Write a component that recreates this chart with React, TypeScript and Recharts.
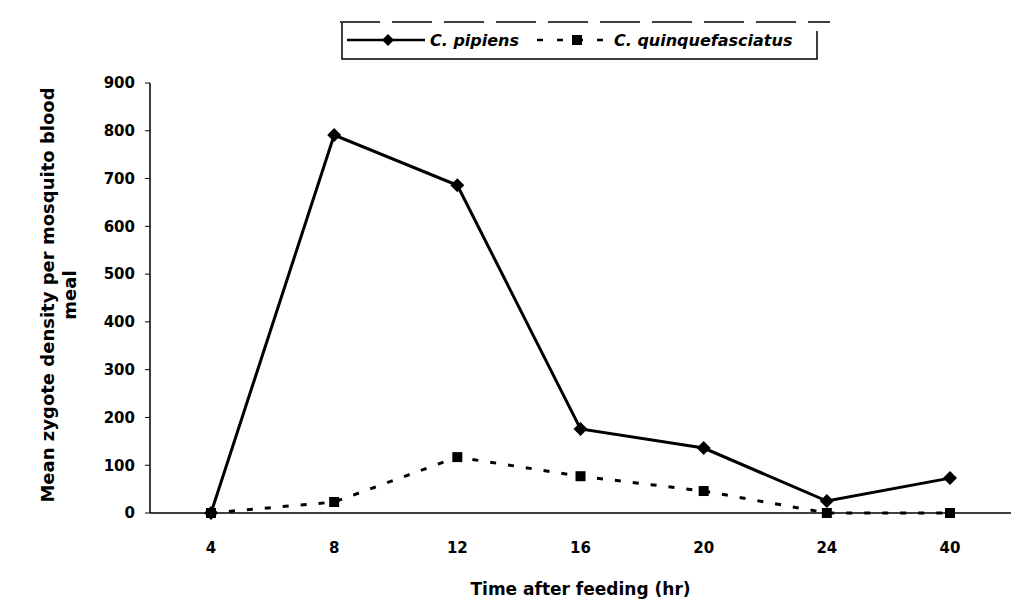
import React from 'react';
import { LineChart, Line, XAxis, YAxis } from 'recharts';

const hours = ['4', '8', '12', '16', '20', '24', '40'];
const pipiens = [0, 791, 686, 176, 136, 25, 73];
const quinque = [0, 23, 117, 77, 46, 0, 0];
const yTicks = [0, 100, 200, 300, 400, 500, 600, 700, 800, 900];

const data = hours.map((h, i) => ({ h, pipiens: pipiens[i], quinque: quinque[i] }));

const FONT = '"DejaVu Sans", "Liberation Sans", Arial, sans-serif';

const Diamond = (props: any) => {
  const { cx, cy } = props;
  if (cx == null || cy == null) return null;
  const r = 7;
  return <polygon key={`d${cx}`} points={`${cx},${cy - r} ${cx + r},${cy} ${cx},${cy + r} ${cx - r},${cy}`} fill="#000" />;
};

const Square = (props: any) => {
  const { cx, cy } = props;
  if (cx == null || cy == null) return null;
  const s = 10;
  return <rect key={`s${cx}`} x={cx - s / 2} y={cy - s / 2} width={s} height={s} fill="#000" />;
};

const LegendBox = () => (
  <svg width={490} height={44} style={{ display: 'block' }}>
    <polyline points="2,4 2,40 477,40 477,12" fill="none" stroke="#000" strokeWidth={1.5} />
    <line x1={0} y1={3} x2={490} y2={3} stroke="#000" strokeWidth={1.5} strokeDasharray="40 12" />
    <line x1={7} y1={21} x2={85} y2={21} stroke="#000" strokeWidth={2.5} />
    <polygon points="48,15 54,21 48,27 42,21" fill="#000" />
    <text x={90} y={27} fontFamily={FONT} fontSize={16} fontWeight="bold" fontStyle="italic">C. pipiens</text>
    <line x1={193} y1={21} x2={270} y2={21} stroke="#000" strokeWidth={2.5} strokeDasharray="6 14" strokeDashoffset={-4} />
    <rect x={232} y={16} width={10} height={10} fill="#000" />
    <text x={274} y={27} fontFamily={FONT} fontSize={16} fontWeight="bold" fontStyle="italic">C. quinquefasciatus</text>
  </svg>
);

const YLabel = () => (
  <g>
    <text
      transform="translate(54,295) rotate(-90)"
      textAnchor="middle"
      fontFamily={FONT}
      fontSize={18}
      fontWeight="bold"
      fill="#000"
    >
      Mean zygote density per mosquito blood
    </text>
    <text
      transform="translate(76,295) rotate(-90)"
      textAnchor="middle"
      fontFamily={FONT}
      fontSize={18}
      fontWeight="bold"
      fill="#000"
    >
      meal
    </text>
  </g>
);

export default function App() {
  return (
    <div style={{ position: 'absolute', left: 0, top: 0, width: 1013, height: 615, background: '#fff' }}>
      <LineChart width={1013} height={615} data={data} margin={{ top: 83, right: 2, bottom: 0, left: 0 }}>
        <XAxis
          dataKey="h"
          height={102}
          padding={{ left: 61, right: 61 }}
          axisLine={{ stroke: '#000', strokeWidth: 1.5 }}
          tickLine={false}
          tickSize={0}
          tickMargin={29}
          tick={{ fill: '#000', fontFamily: FONT, fontSize: 15, fontWeight: 'bold' }}
          label={{ value: 'Time after feeding (hr)', position: 'insideBottom', offset: 20, fill: '#000', fontFamily: FONT, fontSize: 17, fontWeight: 'bold' }}
        />
        <YAxis
          width={150}
          domain={[0, 900]}
          ticks={yTicks}
          interval={0}
          axisLine={{ stroke: '#000', strokeWidth: 1.5 }}
          tickLine={{ stroke: '#000' }}
          tickSize={5}
          tickMargin={10}
          tick={{ fill: '#000', fontFamily: FONT, fontSize: 15, fontWeight: 'bold' }}
          label={{ content: () => <YLabel /> }}
        />
        <Line
          dataKey="pipiens"
          name="C. pipiens"
          stroke="#000"
          strokeWidth={3}
          dot={<Diamond />}
          isAnimationActive={false}
        />
        <Line
          dataKey="quinque"
          name="C. quinquefasciatus"
          stroke="#000"
          strokeWidth={3}
          strokeDasharray="6 12"
          dot={<Square />}
          isAnimationActive={false}
        />
      </LineChart>
      <div style={{ position: 'absolute', top: 19, left: 340 }}>
        <LegendBox />
      </div>
    </div>
  );
}
